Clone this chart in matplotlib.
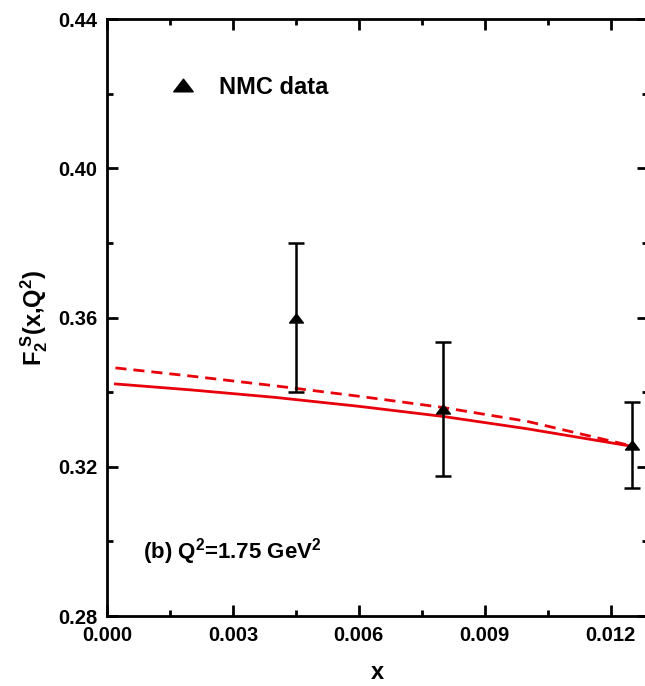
import matplotlib.pyplot as plt
from matplotlib.lines import Line2D
from matplotlib.path import Path
from matplotlib.ticker import MultipleLocator

plt.rcParams['font.family'] = ['Liberation Sans', 'DejaVu Sans']
plt.rcParams['font.weight'] = 'bold'
plt.rcParams['mathtext.fontset'] = 'custom'
plt.rcParams['mathtext.rm'] = 'Liberation Sans:bold'
plt.rcParams['mathtext.it'] = 'Liberation Sans:bold'
plt.rcParams['mathtext.bf'] = 'Liberation Sans:bold'

# NMC data
nmc_x = [0.0045, 0.008, 0.0125]
nmc_y = [0.360, 0.3355, 0.3258]
nmc_lo = [0.340, 0.3175, 0.3143]
nmc_hi = [0.380, 0.3535, 0.3373]

# model curves
curve_x = [0.0002, 0.002, 0.004, 0.006, 0.008, 0.010, 0.0125]
solid_y = [0.3422, 0.3406, 0.3386, 0.3362, 0.3335, 0.3302, 0.3255]
dashed_y = [0.3465, 0.3443, 0.3417, 0.3389, 0.3359, 0.3322, 0.3256]

# wide triangle like the original plot
tri = Path([(-1, -0.65), (1, -0.65), (0, 0.65), (-1, -0.65)],
           [Path.MOVETO, Path.LINETO, Path.LINETO, Path.CLOSEPOLY])

fig = plt.figure(figsize=(6.45, 6.86), dpi=100)
ax = fig.add_axes([0.166, 0.102, 0.838, 0.8703])

ax.plot(curve_x, solid_y, color='#e8000b', lw=2)
ax.plot(curve_x, dashed_y, color='#e8000b', lw=2, ls=(0, (4, 2.5)))

yerr = [[y - lo for y, lo in zip(nmc_y, nmc_lo)], [hi - y for y, hi in zip(nmc_y, nmc_hi)]]
ax.errorbar(nmc_x, nmc_y, yerr=yerr, fmt='none', ecolor='black',
            elinewidth=1.8, capsize=5.5, capthick=1.8)
ax.plot(nmc_x, nmc_y, ls='none', marker=tri, ms=10, color='black')

ax.set_xlim(0, 0.01288)
ax.set_ylim(0.28, 0.44)
ax.xaxis.set_major_locator(MultipleLocator(0.003))
ax.xaxis.set_minor_locator(MultipleLocator(0.0015))
ax.yaxis.set_major_locator(MultipleLocator(0.04))
ax.yaxis.set_minor_locator(MultipleLocator(0.02))
ax.xaxis.set_major_formatter(plt.FormatStrFormatter('%.3f'))
ax.yaxis.set_major_formatter(plt.FormatStrFormatter('%.2f'))
ax.tick_params(which='both', direction='in', top=True, right=True, width=2, labelsize=14.5)
ax.tick_params(which='major', length=8, pad=7)
ax.tick_params(which='minor', length=4)
for s in ax.spines.values():
    s.set_linewidth(2)

ax.set_xlabel('x', fontsize=17, fontweight='bold', labelpad=12)
ax.set_ylabel(r'F$_2^{\ S}$(x,Q$^2$)', fontsize=17, fontweight='bold', labelpad=6)

handle = Line2D([], [], ls='none', marker=tri, ms=14, color='black')
ax.legend([handle], ['NMC data'], loc='center left', bbox_to_anchor=(0.119, 0.886),
          frameon=False, fontsize=17, handlelength=1.0, handletextpad=1.0,
          borderpad=0, borderaxespad=0)
ax.text(0.066, 0.097, r'(b) Q$^2$=1.75 GeV$^2$', transform=ax.transAxes, fontsize=16,
        fontweight='bold', va='baseline')

fig.savefig('out.png', dpi=100)
